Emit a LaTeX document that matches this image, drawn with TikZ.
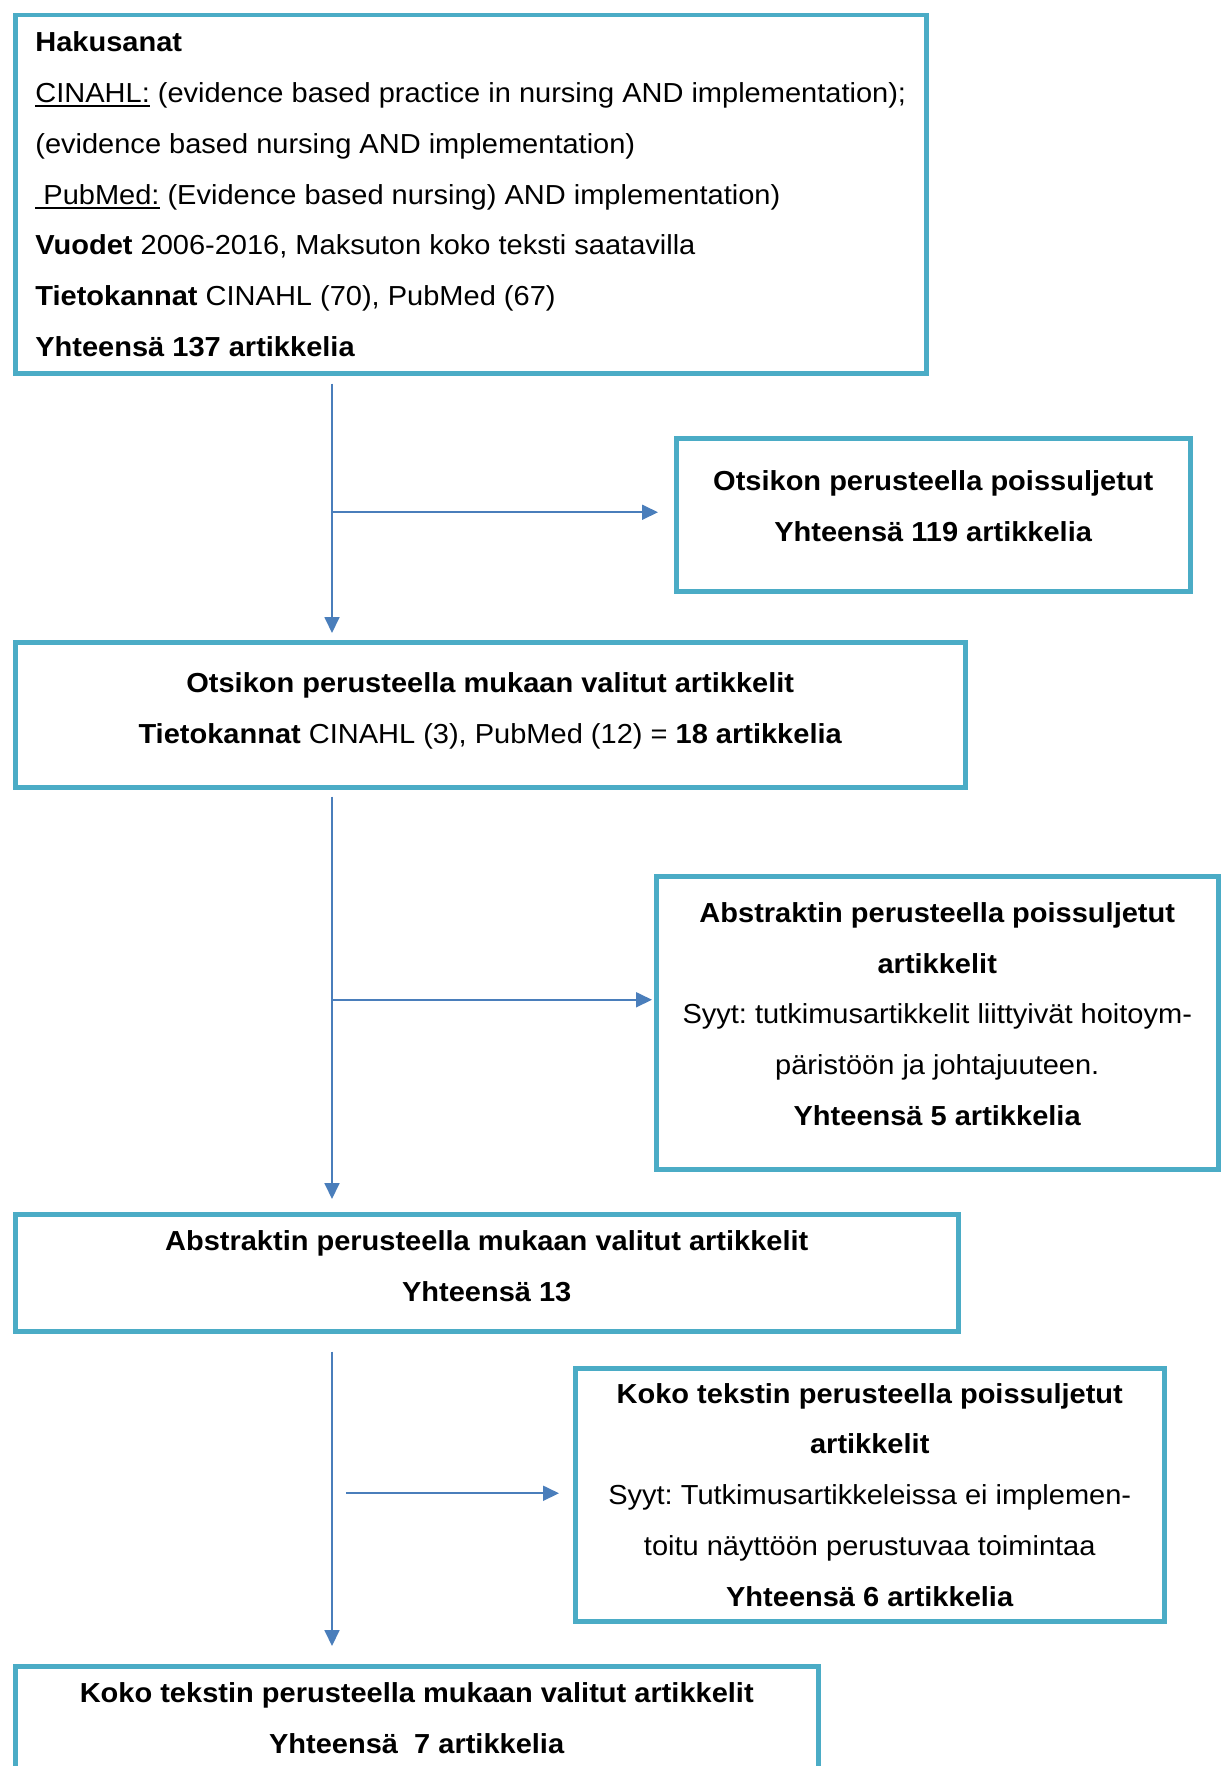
\documentclass[tikz,border=0pt]{standalone}
\usepackage{fontspec}
\setmainfont{Liberation Sans}[FakeStretch=1.055]
\usetikzlibrary{arrows.meta, positioning, calc}
\definecolor{boxline}{HTML}{4BACC6}
\definecolor{arline}{HTML}{4A7EBB}
\newcommand{\ulin}[1]{\setbox0\hbox{#1}\rlap{\rule[-4.5pt]{\wd0}{1.8pt}}\box0\relax}

\begin{document}
\frenchspacing
\begin{tikzpicture}[
  x=1pt, y=-1pt,
  bx/.style={draw=boxline, line width=4.5pt, anchor=north west, inner sep=0pt,
             font=\fontsize{27.5}{50.7}\selectfont, align=center},
  lift/.style={text depth=#1},
  ar/.style={-{Triangle[length=16pt, width=15pt]}, draw=arline, line width=1.8pt},
]
\fill[white] (0,0) rectangle (1224,1766);
\useasboundingbox (0,0) rectangle (1224,1766);

\node[bx, align=left, minimum width=911, minimum height=358] (hits) at (13,13)
  {\textbf{Hakusanat}\\
   \ulin{CINAHL:} (evidence based practice in nursing AND implementation);\\
   (evidence based nursing AND implementation)\\
   \ulin{\ PubMed:} (Evidence based nursing) AND implementation)\\
   \textbf{Vuodet} 2006-2016, Maksuton koko teksti saatavilla\\
   \textbf{Tietokannat} CINAHL (70), PubMed (67)\\
   \textbf{Yhteensä 137 artikkelia}};
\node[bx, lift=18pt, minimum width=514, minimum height=153] (exclTitle) at (674,436)
  {\textbf{Otsikon perusteella poissuljetut}\\
   \textbf{Yhteensä 119 artikkelia}};
\node[bx, lift=14pt, minimum width=950, minimum height=145] (selTitle) at (13,640)
  {\textbf{Otsikon perusteella mukaan valitut artikkelit}\\
   \textbf{Tietokannat} CINAHL (3), PubMed (12) = \textbf{18 artikkelia}};
\node[bx, lift=18pt, minimum width=562, minimum height=293] (exclAbs) at (654,874)
  {\textbf{Abstraktin perusteella poissuljetut}\\
   \textbf{artikkelit}\\
   Syyt: tutkimusartikkelit liittyivät hoitoym-\\
   päristöön ja johtajuuteen.\\
   \textbf{Yhteensä 5 artikkelia}};
\node[bx, lift=14pt, minimum width=943, minimum height=117] (selAbs) at (13,1212)
  {\textbf{Abstraktin perusteella mukaan valitut artikkelit}\\
   \textbf{Yhteensä 13}};
\node[bx, minimum width=589, minimum height=253] (exclFull) at (573,1366)
  {\textbf{Koko tekstin perusteella poissuljetut}\\
   \textbf{artikkelit}\\
   Syyt: Tutkimusartikkeleissa ei implemen-\\
   toitu näyttöön perustuvaa toimintaa\\
   \textbf{Yhteensä 6 artikkelia}};
\node[bx, lift=14pt, minimum width=803, minimum height=118] (selFull) at (13,1664)
  {\textbf{Koko tekstin perusteella mukaan valitut artikkelit}\\
   \textbf{Yhteensä\ \ 7 artikkelia}};

\coordinate (spine) at (332,0);

\draw[ar, shorten <=8pt, shorten >=7pt] (hits.south -| spine) -- (selTitle.north -| spine);
\draw[ar, shorten >=16pt] ([yshift=2.5pt]exclTitle.west -| spine) -- ([yshift=2.5pt]exclTitle.west);
\draw[ar, shorten <=7pt, shorten >=13pt] (selTitle.south -| spine) -- (selAbs.north -| spine);
\draw[ar, shorten >=2pt] ([yshift=23pt]exclAbs.west -| spine) -- ([yshift=23pt]exclAbs.west);
\draw[ar, shorten <=18pt, shorten >=18pt] (selAbs.south -| spine) -- (selFull.north -| spine);
\draw[ar, shorten <=14pt, shorten >=14pt] ([yshift=1.5pt]exclFull.west -| spine) -- ([yshift=1.5pt]exclFull.west);
\end{tikzpicture}
\end{document}
